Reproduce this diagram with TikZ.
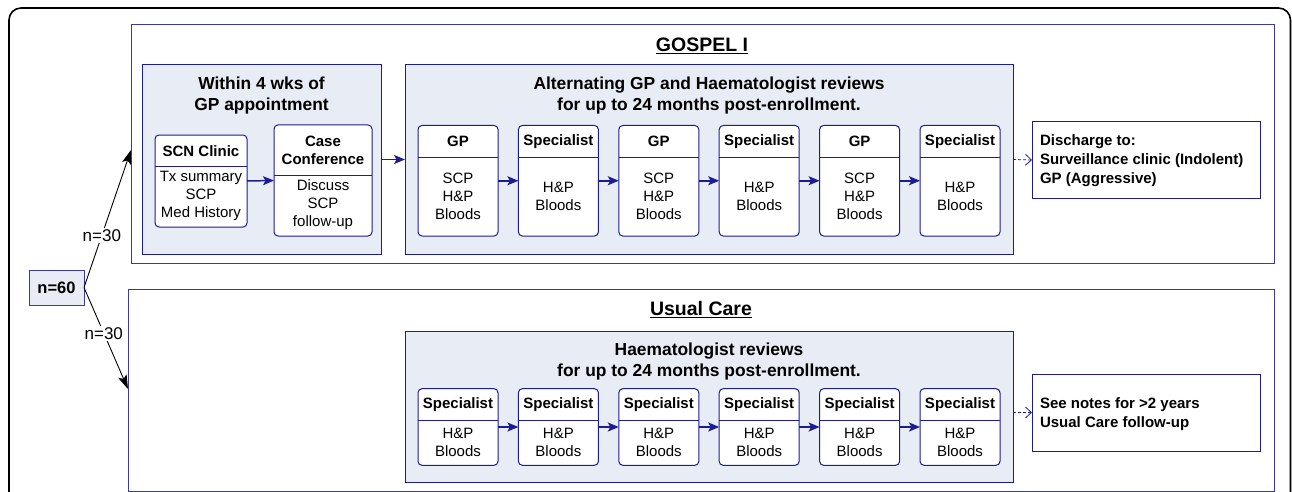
\documentclass[tikz,border=0pt]{standalone}
\usepackage{fontspec}
\setmainfont{Liberation Sans}
\usetikzlibrary{arrows.meta}
\definecolor{navyline}{HTML}{1C1C94}
\definecolor{armline}{HTML}{3A3AA6}
\definecolor{panelfill}{HTML}{E8EDF5}
\tikzset{
 every node/.style={inner sep=0pt, outer sep=0pt},
 arm/.style={draw=armline, line width=1pt},
 panel/.style={draw=navyline, fill=panelfill, line width=1pt},
 visit/.style={draw=navyline, fill=white, line width=1pt, rounded corners=4pt},
 divider/.style={draw=navyline, line width=1pt},
 plain/.style={draw=navyline, fill=white, line width=1pt},
 txt/.style={font=\fontsize{15}{18}\selectfont, align=center},
 hdr/.style={font=\fontsize{15}{18}\selectfont\bfseries, align=center},
 ltxt/.style={font=\fontsize{15}{19}\selectfont\bfseries, align=left},
 ttl/.style={font=\fontsize{17.4}{21}\selectfont\bfseries, align=center},
 big/.style={font=\fontsize{19.5}{23}\selectfont\bfseries},
 flow/.style={draw=navyline, line width=1.5pt, -{Stealth[length=11pt,width=9pt,inset=2.5pt]}},
 dflow/.style={draw=navyline, line width=0.8pt, dash pattern=on 3pt off 2pt, -{Straight Barb[length=6pt,width=11pt]}},
 split/.style={draw=black, line width=0.9pt, -{Stealth[length=14pt,width=9pt,inset=3pt]}},
 nlab/.style={font=\fontsize{17}{20}\selectfont, fill=white, inner sep=1.5pt},
}
% #1 width, #2 name, #3 cx, #4 top, #5 height, #6 divider y, #7 header, #8 body
\newcommand\visitnode[8][80]{%
 \node[visit, minimum width=#1pt, minimum height=#5pt] (#2) at (#3,{#4+#5/2}) {};
 \draw[divider] ({#3-#1/2},#6) -- ({#3+#1/2},#6);
 \node[hdr] (#2h) at (#3,{(#4+#6)/2+0.5}) {#7};
 \node[txt] (#2b) at (#3,{(#6+#4+#5)/2-0.5}) {#8};
}
\begin{document}
\begin{tikzpicture}[x=1pt,y=-1pt]
\useasboundingbox (0,0) rectangle (1292,492);
% outer frame
\begin{scope}
 \clip (0,0) rectangle (1292,492);
 \draw[line width=1.6pt, rounded corners=12pt] (9,8) rectangle (1290.5,540);
\end{scope}

% arms
\node[arm, minimum width=1143pt, minimum height=238pt] (gospel) at (702.5,144) {};
\node[arm, minimum width=1146pt, minimum height=202pt] (usual) at (701,390) {};
\node[big, anchor=base] (gospelt) at (702,52) {\underline{GOSPEL I}};
\node[big, anchor=base] (usualt) at (701,315.7) {\underline{Usual Care}};

% panels
\node[panel, minimum width=239pt, minimum height=189pt] (within) at (261.5,159.5) {};
\node[ttl] (withint) at (261.5,96) {Within 4 wks of\\GP appointment};
\node[panel, minimum width=608pt, minimum height=189pt] (alt) at (709,159.5) {};
\node[ttl] (altt) at (709,96) {Alternating GP and Haematologist reviews\\for up to 24 months post-enrollment.};
\node[panel, minimum width=608pt, minimum height=151pt] (haem) at (709,406.5) {};
\node[ttl] (haemt) at (709,361.5) {Haematologist reviews\\for up to 24 months post-enrollment.};

% GOSPEL visits
\visitnode[92]{scn}{201}{135}{92}{166}{SCN Clinic}{Tx summary\\SCP\\Med History}
\visitnode[98]{cc}{323}{125}{111}{175}{Case\\Conference}{Discuss\\SCP\\follow-up}
\visitnode{g1}{458}{125.5}{110.5}{157}{GP}{SCP\\H\&P\\Bloods}
\visitnode{g2}{558.4}{125.5}{110.5}{157}{Specialist}{H\&P\\Bloods}
\visitnode{g3}{658.8}{125.5}{110.5}{157}{GP}{SCP\\H\&P\\Bloods}
\visitnode{g4}{759.2}{125.5}{110.5}{157}{Specialist}{H\&P\\Bloods}
\visitnode{g5}{859.6}{125.5}{110.5}{157}{GP}{SCP\\H\&P\\Bloods}
\visitnode{g6}{960}{125.5}{110.5}{157}{Specialist}{H\&P\\Bloods}

% Usual care visits
\visitnode{u1}{458}{388.7}{76.6}{420.3}{Specialist}{H\&P\\Bloods}
\visitnode{u2}{558.4}{388.7}{76.6}{420.3}{Specialist}{H\&P\\Bloods}
\visitnode{u3}{658.8}{388.7}{76.6}{420.3}{Specialist}{H\&P\\Bloods}
\visitnode{u4}{759.2}{388.7}{76.6}{420.3}{Specialist}{H\&P\\Bloods}
\visitnode{u5}{859.6}{388.7}{76.6}{420.3}{Specialist}{H\&P\\Bloods}
\visitnode{u6}{960}{388.7}{76.6}{420.3}{Specialist}{H\&P\\Bloods}

% outcome boxes
\node[plain, minimum width=228pt, minimum height=76pt] (dis) at (1146,160) {};
\node[ltxt, anchor=west] (dist) at (1040,161) {Discharge to:\\Surveillance clinic (Indolent)\\GP (Aggressive)};
\node[plain, minimum width=228pt, minimum height=77pt] (notes) at (1146,412.5) {};
\node[ltxt, anchor=west] (notest) at (1040,414) {See notes for {>}2 years\\Usual Care follow-up};

% randomisation
\node[panel, draw=armline, minimum width=55pt, minimum height=35pt, font=\fontsize{16.5}{20}\selectfont\bfseries] (n60) at (56.5,287.5) {n=60};
\coordinate (gin) at (131,150);
\coordinate (uin) at (128,389);
\draw[split] (n60.east) -- node[nlab, pos=0.38] (lab1) {n=30} (gin);
\draw[split] (n60.east) -- node[nlab, pos=0.45] (lab2) {n=30} (uin);

% flows
\draw[flow] (scn.east) -- (cc.west);
\draw[flow] (within.east) -- (alt.west);
\draw[flow] (g1.east) -- (g2.west);
\draw[flow] (g2.east) -- (g3.west);
\draw[flow] (g3.east) -- (g4.west);
\draw[flow] (g4.east) -- (g5.west);
\draw[flow] (g5.east) -- (g6.west);
\draw[flow] (u1.east) -- (u2.west);
\draw[flow] (u2.east) -- (u3.west);
\draw[flow] (u3.east) -- (u4.west);
\draw[flow] (u4.east) -- (u5.west);
\draw[flow] (u5.east) -- (u6.west);
\draw[dflow] (alt.east) -- (dis.west);
\draw[dflow] (notes.west -| haem.east) -- (notes.west);
\end{tikzpicture}
\end{document}
